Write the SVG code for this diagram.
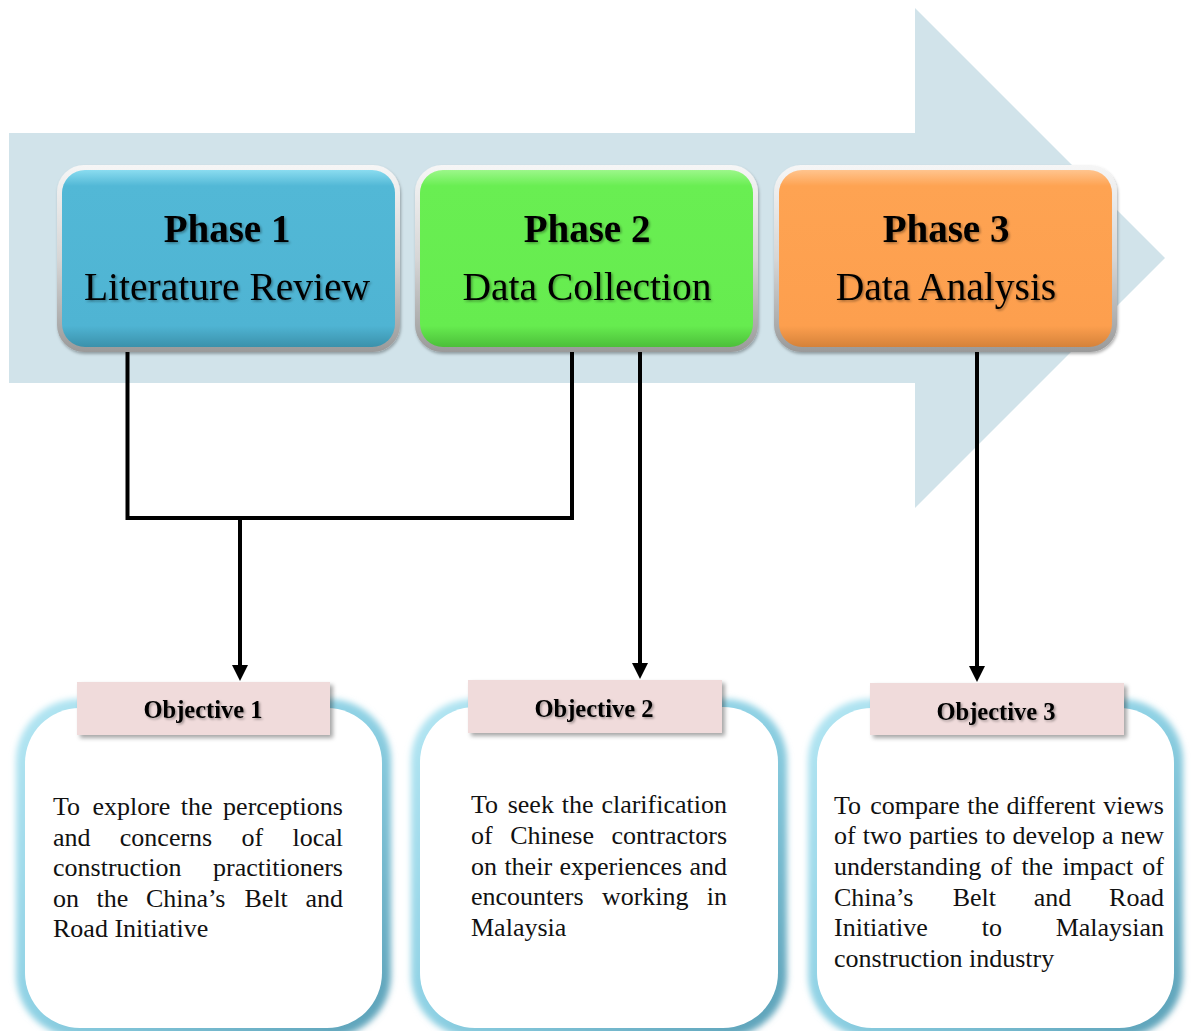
<svg xmlns="http://www.w3.org/2000/svg" width="1194" height="1031" viewBox="0 0 1194 1031">
<defs>
<style>
.ph{font-family:"Liberation Serif","Times New Roman",serif;font-size:39px;font-weight:bold;fill:#000;text-anchor:middle}
.sub{font-family:"Liberation Serif","Times New Roman",serif;font-size:39.5px;fill:#000;text-anchor:middle}
.obj{font-family:"Liberation Serif","Times New Roman",serif;font-size:24.5px;font-weight:bold;fill:#000;text-anchor:middle}
.body{font-family:"Liberation Serif","Times New Roman",serif;font-size:26px;fill:#111}
.conn{fill:none;stroke:#000;stroke-width:4}
.bezel{fill:url(#bezel)}
.lbl{fill:#F0DBDB}
.white{fill:#fff}
.glow{fill:url(#glowG)}
</style>
<linearGradient id="bezel" x1="0" y1="0" x2="0" y2="1">
<stop offset="0" stop-color="#f6f6f6"/><stop offset="0.5" stop-color="#d6d6d6"/><stop offset="1" stop-color="#9a9a9a"/>
</linearGradient>
<linearGradient id="g1" x1="0" y1="0" x2="0" y2="1">
<stop offset="0" stop-color="#8adcf0"/><stop offset="0.09" stop-color="#52b8d6"/><stop offset="0.88" stop-color="#4fb4d3"/><stop offset="1" stop-color="#3b91ab"/>
</linearGradient>
<linearGradient id="g2" x1="0" y1="0" x2="0" y2="1">
<stop offset="0" stop-color="#9cf78a"/><stop offset="0.09" stop-color="#69ee52"/><stop offset="0.88" stop-color="#66ec4f"/><stop offset="1" stop-color="#4cbf3a"/>
</linearGradient>
<linearGradient id="g3" x1="0" y1="0" x2="0" y2="1">
<stop offset="0" stop-color="#ffc48e"/><stop offset="0.09" stop-color="#fea352"/><stop offset="0.88" stop-color="#fd9f4e"/><stop offset="1" stop-color="#d5823a"/>
</linearGradient>
<linearGradient id="glowG" x1="0" y1="0" x2="1" y2="1">
<stop offset="0" stop-color="#b4e6f3"/><stop offset="0.5" stop-color="#8dd0e3"/><stop offset="1" stop-color="#5a9fb6"/>
</linearGradient>
<filter id="blur" x="-10%" y="-10%" width="120%" height="120%"><feGaussianBlur stdDeviation="3"/></filter>
<filter id="sh" x="-10%" y="-10%" width="125%" height="130%"><feDropShadow dx="3" dy="3" stdDeviation="2" flood-color="#000" flood-opacity="0.35"/></filter>
<filter id="tsh" x="-10%" y="-20%" width="120%" height="150%"><feDropShadow dx="1.5" dy="1.5" stdDeviation="1" flood-color="#000" flood-opacity="0.35"/></filter>
<filter id="bsh" x="-5%" y="-5%" width="110%" height="115%"><feDropShadow dx="1" dy="2" stdDeviation="1.5" flood-color="#000" flood-opacity="0.3"/></filter>
<marker id="ah" viewBox="0 0 16 16" refX="12" refY="8" markerWidth="16" markerHeight="16" markerUnits="userSpaceOnUse" orient="auto">
<path d="M0,0 L16,8 L0,16 z" fill="#000"/>
</marker>
</defs>
<rect width="1194" height="1031" fill="#fff"/>

<g id="bigArrow">
<path d="M9,133 H915 V8 L1165,258 L915,508 V383 H9 Z" fill="#D1E3EA"/>
</g>

<g id="phase1">
<rect class="bezel" x="57" y="165" width="343" height="187" rx="27" filter="url(#bsh)"/>
<rect x="62" y="170" width="333" height="177" rx="23" fill="url(#g1)"/>
<g filter="url(#tsh)">
<text class="ph" x="227" y="242">Phase 1</text>
<text class="sub" x="227" y="300">Literature Review</text>
</g>
</g>

<g id="phase2">
<rect class="bezel" x="415" y="165" width="343" height="187" rx="27" filter="url(#bsh)"/>
<rect x="420" y="170" width="333" height="177" rx="23" fill="url(#g2)"/>
<g filter="url(#tsh)">
<text class="ph" x="587" y="242">Phase 2</text>
<text class="sub" x="587" y="300">Data Collection</text>
</g>
</g>

<g id="phase3">
<rect class="bezel" x="774" y="165" width="343" height="187" rx="27" filter="url(#bsh)"/>
<rect x="779" y="170" width="333" height="177" rx="23" fill="url(#g3)"/>
<g filter="url(#tsh)">
<text class="ph" x="946" y="242">Phase 3</text>
<text class="sub" x="946" y="300">Data Analysis</text>
</g>
</g>

<g id="connectors">
<path class="conn" d="M127.5,352 V518 H572 V352"/>
<path class="conn" d="M240,520 V677" marker-end="url(#ah)"/>
<path class="conn" d="M640,352 V675" marker-end="url(#ah)"/>
<path class="conn" d="M977,352 V678" marker-end="url(#ah)"/>
</g>

<g id="objective1">
<rect class="glow" x="16" y="699" width="375" height="338" rx="62" filter="url(#blur)"/>
<rect class="white" x="25" y="708" width="357" height="320" rx="55"/>
<rect class="lbl" x="77" y="682" width="253" height="53" filter="url(#sh)"/>
<text class="obj" x="203" y="718" filter="url(#tsh)">Objective 1</text>
<text class="body" y="815"><tspan x="53">To</tspan><tspan x="92.4">explore</tspan><tspan x="180.8">the</tspan><tspan x="223.1">perceptions</tspan></text>
<text class="body" y="845.5"><tspan x="53">and</tspan><tspan x="119.8">concerns</tspan><tspan x="241.5">of</tspan><tspan x="292.5">local</tspan></text>
<text class="body" y="876"><tspan x="53">construction</tspan><tspan x="213">practitioners</tspan></text>
<text class="body" y="906.5"><tspan x="53">on</tspan><tspan x="96.6">the</tspan><tspan x="146">China’s</tspan><tspan x="244.5">Belt</tspan><tspan x="305.5">and</tspan></text>
<text class="body" y="937"><tspan x="53">Road Initiative</tspan></text>
</g>

<g id="objective2">
<rect class="glow" x="411" y="699" width="376" height="338" rx="62" filter="url(#blur)"/>
<rect class="white" x="420" y="707" width="358" height="321" rx="55"/>
<rect class="lbl" x="468" y="680" width="254" height="53" filter="url(#sh)"/>
<text class="obj" x="594" y="716.5" filter="url(#tsh)">Objective 2</text>
<text class="body" y="813"><tspan x="471">To</tspan><tspan x="507.7">seek</tspan><tspan x="561.8">the</tspan><tspan x="601.4">clarification</tspan></text>
<text class="body" y="843.8"><tspan x="471">of</tspan><tspan x="510.2">Chinese</tspan><tspan x="611.5">contractors</tspan></text>
<text class="body" y="874.6"><tspan x="471">on</tspan><tspan x="504.4">their</tspan><tspan x="559.5">experiences</tspan><tspan x="689.5">and</tspan></text>
<text class="body" y="905.4"><tspan x="471">encounters</tspan><tspan x="601.9">working</tspan><tspan x="706.8">in</tspan></text>
<text class="body" y="936.2"><tspan x="471">Malaysia</tspan></text>
</g>

<g id="objective3">
<rect class="glow" x="808" y="699" width="375" height="338" rx="62" filter="url(#blur)"/>
<rect class="white" x="817" y="708" width="357" height="320" rx="55"/>
<rect class="lbl" x="870" y="683" width="254" height="52" filter="url(#sh)"/>
<text class="obj" x="996" y="719.5" filter="url(#tsh)">Objective 3</text>
<text class="body" y="813.5"><tspan x="834">To</tspan><tspan x="870.3">compare</tspan><tspan x="967.2">the</tspan><tspan x="1006.4">different</tspan><tspan x="1103.3">views</tspan></text>
<text class="body" y="844.2"><tspan x="834">of</tspan><tspan x="862.8">two</tspan><tspan x="908.9">parties</tspan><tspan x="985.3">to</tspan><tspan x="1012.6">develop</tspan><tspan x="1102">a</tspan><tspan x="1120.7">new</tspan></text>
<text class="body" y="874.9"><tspan x="834">understanding</tspan><tspan x="990.5">of</tspan><tspan x="1021.4">the</tspan><tspan x="1062.4">impact</tspan><tspan x="1142.3">of</tspan></text>
<text class="body" y="905.6"><tspan x="834">China’s</tspan><tspan x="952.7">Belt</tspan><tspan x="1033.8">and</tspan><tspan x="1109.1">Road</tspan></text>
<text class="body" y="936.3"><tspan x="834">Initiative</tspan><tspan x="981.7">to</tspan><tspan x="1055.7">Malaysian</tspan></text>
<text class="body" y="967"><tspan x="834">construction industry</tspan></text>
</g>
</svg>
